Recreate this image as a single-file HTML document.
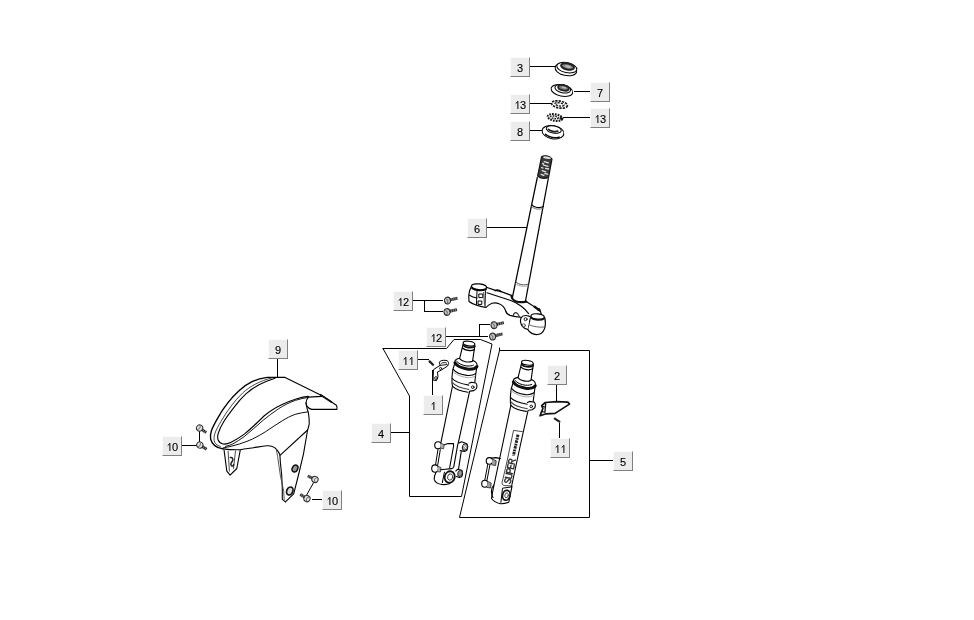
<!DOCTYPE html>
<html>
<head>
<meta charset="utf-8">
<title>Front fork - parts diagram</title>
<style>
html,body{margin:0;padding:0;background:#fff;}
body{width:974px;height:620px;position:relative;overflow:hidden;font-family:"Liberation Sans",sans-serif;}
#art{position:absolute;left:0;top:0;width:974px;height:620px;}
.lb{position:absolute;width:18px;height:18px;background:#ececec;border-top:1px solid #fbfbfb;border-left:1px solid #fbfbfb;border-right:1px solid #808080;border-bottom:1px solid #808080;font-size:11px;line-height:20px;text-align:center;color:#000;will-change:transform;-webkit-text-stroke:0.12px #000;}
.one{display:inline-block;vertical-align:baseline;margin:0 0.05px;}
</style>
</head>
<body>
<svg id="art" style="will-change:transform" width="974" height="620" viewBox="0 0 974 620" fill="none" stroke="#000" stroke-width="1" stroke-linecap="round" stroke-linejoin="round">
<defs>
<g id="bolt">
<path d="M2.6 -0.2L10.2 -0.2" stroke="#2c2c2c" stroke-width="2.9" stroke-linecap="butt"/>
<path d="M4.6 -1.6v2.8M6.6 -1.6v2.8M8.6 -1.6v2.8" stroke="#a0a0a0" stroke-width="0.7" stroke-linecap="butt"/>
<ellipse cx="0" cy="0" rx="3" ry="3.4" fill="#c4c4c4" stroke="#2a2a2a" stroke-width="1.1"/>
<path d="M-1.2 -2.4C0.6 -1.2 0.8 1.2 -0.8 2.6" stroke="#555" stroke-width="0.9"/>
</g>
<g id="bolt2">
<path d="M2.4 0L8 0" stroke="#2c2c2c" stroke-width="2.9" stroke-linecap="butt"/>
<path d="M4.6 -1.5v3M6.6 -1.5v3" stroke="#9a9a9a" stroke-width="0.7" stroke-linecap="butt"/>
<circle cx="0" cy="0" r="3.1" fill="#e4e4e4" stroke="#2a2a2a" stroke-width="1"/>
<path d="M-1 -2.2C0.8 -1 0.8 1 -0.8 2.4" stroke="#666" stroke-width="0.9"/>
</g>
<g id="forkTop" stroke-width="1.1">
<!-- inner tube -->
<path d="M463.2 344L459.6 358.6C462 361.6 468 363 472.6 361.2L474.9 345.2" fill="#fff"/>
<ellipse cx="469" cy="343.6" rx="5.9" ry="2.3" transform="rotate(8 469 343.6)" fill="#fff"/>
<path d="M463.3 345.2C465 347.6 471 348.6 474.8 346.6" stroke-width="1.7" stroke="#111"/>
<path d="M462.6 348C465 350.6 471 351.4 474.3 349.6" stroke-width="1.2"/>
<!-- dust seal -->
<path d="M459.6 358.2C457 358.6 455.2 359.8 454.9 361.4L454.9 363"/>
<path d="M472.8 360.4C475 361.2 476.8 362.8 477 364.6L477 366.6"/>
<path d="M456.5 361.2C458 363.4 463 365.8 467 366C470 366.2 472.4 365.8 473.4 365.2" stroke-width="1"/>
<path d="M454.9 362.8C456.4 365.4 461 368 467 369C471 369.6 475.4 368.6 477 366.5" stroke-width="2.9" stroke="#111"/>
<!-- outer tube top -->
<path d="M454.9 363L452.8 369.6L452 377L452 383.2L452.5 386"/>
<path d="M477 366.6L476.4 369.6L475.4 377L474.8 382.4"/>
<path d="M453.3 369.4C455 371.6 460 374.4 467 375.4C470.6 375.8 473.8 375 475.6 373.6"/>
<path d="M453 371.6C455 373.8 460 376.6 467 377.6C470.6 378 473.6 377.2 475.2 376" stroke="#aaa" stroke-width="1"/>
<!-- clamp ring -->
<path d="M452.3 378.5C454 380.6 459.6 383.6 469 385.1"/>
<path d="M452.5 382.7C454.4 385 460 388 469 389.5" stroke="#444"/>
<path d="M452.8 386.4C455 388.8 461 391.4 468 392.2"/>
<path d="M469 383.3L471.2 382.2L475.9 383C476.8 384 477 385.4 476.9 386.4C476.8 387.8 476.6 388.2 476.4 388.6L473.8 390.6L470.1 391.1" fill="#fff"/>
<circle cx="472.8" cy="387.2" r="1.3" stroke-width="0.9"/>
</g>
</defs>
<!-- LEADERS -->
<g id="leaders" shape-rendering="crispEdges" stroke-linecap="butt">
<path d="M530 66.5H555"/>
<path d="M574 91.5H590"/>
<path d="M530 103.5H551"/>
<path d="M563 117.5H590"/>
<path d="M530 130.5H543"/>
<path d="M487 227.5H527"/>
<path d="M413 300.5H443M424.5 300V311.5H443"/>
<path d="M446 336.5H488M479.5 336V324.5H490"/>
<path d="M418 359.5H429"/>
<path d="M432.5 370V395"/>
<path d="M391 432.5H409"/>
<path d="M277.5 359V377"/>
<path d="M182 445.5H197M199.5 431V443"/>
<path d="M312 499.5H322"/>
<path d="M556.5 385V401"/>
<path d="M559.5 423V438"/>
<path d="M589 460.5H613"/>
</g>
<!-- GROUP OUTLINES -->
<g id="outlines">
<path d="M383 348.5H446.5L454 339.5H480.5L492 344L461.5 496.5H409.5V396L383 348.5"/>
<path d="M499.5 348V350.5H589.5V517.5H459.5L499.5 350.5"/>
</g>
<!-- PARTS -->
<g id="parts">
<!-- STEM 6 -->
<g id="stem">
<path d="M541.5 157L512.5 297L525.5 301L552 159Z" fill="#fff" stroke="none"/>
<path d="M541.5 157L537.6 176C541 178.6 545.5 178.8 548.6 177.2L552 159C550 155.5 543.5 155 541.5 157Z" fill="#3a3a3a" stroke="#111" stroke-width="1.2"/>
<ellipse cx="547" cy="157.6" rx="4" ry="1.2" fill="#ddd" stroke="none" transform="rotate(10 547 157.6)"/>
<path d="M544.2 161.6l4.2 1.2M543.4 165l4.6 1.4M545.6 168.4l3 0.6M542.2 170.6l3.6 1.2M544.8 173.6l3 0.6M541.2 174.4l2.6 1M542.6 163.4l1 0.4M541.6 167.6l1.4 0.4" stroke="#e4e4e4" stroke-width="1.3"/>
<path d="M537.3 177.5L512.5 297" stroke-width="1.25"/>
<path d="M548.3 178.5L525.5 301" stroke-width="1.25"/>
<path d="M531.6 204.6C534 207.6 540 208.6 543.4 206.4" stroke-width="1.1"/>
<path d="M531.4 206.2C534 209.4 540 210.2 543.2 208" stroke="#666" stroke-width="0.9"/>
<path d="M516 282.2C519 284.8 524.5 285.6 528.4 284" stroke="#555" stroke-width="1"/>
<path d="M515.7 283.8C519 286.4 524.5 287 528.1 285.6" stroke="#999" stroke-width="0.9"/>
<path d="M511.6 296.5C512 300.5 517 303.4 526.2 301.6" stroke="#111" stroke-width="2.2"/>
</g>
<!-- TRIPLE CLAMP -->
<g id="clamp" stroke-width="1.15">
<!-- left clamp -->
<path d="M471.3 286.5C469.5 290 468.3 296 469 301.5C473 304.5 480 306.5 486 307.5C488 305 490 304 492 303.2C494.5 302.6 497 302.8 499 303.8C502 305 504.5 307.5 505.5 310.5C506 312.6 507.5 314.4 510 315.4C514 316.8 519 317.3 522.5 317.5"/>
<ellipse cx="479" cy="286.8" rx="7.6" ry="2.9" transform="rotate(6 479 286.8)" fill="#fff"/>
<path d="M472 288.4C475 290.6 482 291.2 486 289.4" stroke-width="1.6"/>
<path d="M469 295C472 296.8 474.5 297.6 477 298"/>
<path d="M477 291.5L476.4 304.6M485.4 290.8L485 306.6" stroke-width="1"/>
<rect x="479.2" y="294" width="3.6" height="3.6" stroke-width="1"/>
<rect x="478.4" y="301" width="3.4" height="3.4" stroke-width="1"/>
<path d="M483.6 292.5L484.4 304" stroke-width="0.9" stroke="#444"/>
<!-- arm -->
<path d="M486.4 287.2L495.4 290.4L500.6 291.4L512 295.6"/>
<path d="M495.2 290.6C497 289.6 499.6 290 500.8 291.6" stroke-width="1.5"/>
<path d="M487 292.8L510 300.2C514 301.6 518 303.6 521 306C524.5 308.6 527 311.4 528.6 313.6"/>
<path d="M513 316.2C513.6 313.6 515 312.4 516.2 312.6C517.6 313 518.6 314.6 519.4 316.6" stroke="#333"/>
<!-- right arm top -->
<path d="M526.2 301.4L532.4 305.4L536.4 308.4L540.4 311.2L541.2 314"/>
<path d="M534.6 306.8L539.6 310.4" stroke-width="2.4" stroke="#111"/>
<circle cx="538.8" cy="309.6" r="1.5" fill="#111" stroke="none"/>
<!-- right clamp cylinder -->
<path d="M530.6 316.8C529.6 321 528.6 325.5 527.6 329.4C529.5 332.4 533 334.4 536.6 334.6C540 334.6 543 332.6 544.4 329C545.6 325.6 545.6 321.4 544.8 317.6" fill="#fff"/>
<ellipse cx="537.6" cy="316.6" rx="6.7" ry="2.7" transform="rotate(6 537.6 316.6)" fill="#fff"/>
<path d="M531 317.6C533.5 320 541 320.6 544.2 318.4" stroke-width="1.9" stroke="#111"/>
<path d="M529 324.8C533 326.6 539 327.6 545 327" stroke="#666" stroke-width="1"/>
<!-- lug -->
<path d="M529.6 316.4C526 315 522.4 315.6 521 318C520 320.6 520.6 324 522.6 326.6C524 328.2 526 329.2 527.8 329.4" fill="#fff"/>
<circle cx="525.6" cy="319.2" r="1.5" stroke-width="0.9"/>
<circle cx="523.8" cy="325.4" r="1.6" stroke-width="0.9" stroke="#444"/>
</g>
<!-- FENDER 9 -->
<g id="fender" stroke-width="1.1">
<!-- body fill -->
<path d="M267.3 377.3L284.6 377.3L321.6 395.4L336.4 405.3L336.9 409.4L311.7 409.4L308.4 412.7L309.2 424.2L307.6 430L303.5 453.8L293.7 493.9L285.4 501.9L282.3 499.3L282.3 488.5L280.3 461.8L279.7 454.4L276.3 449.1L272.3 446.4L266.9 445.7L253.5 447.7L240.2 449.7L236.8 468.5L230.1 475.2L226.8 471.1L224.1 450.4L220.1 448.4L214.7 445.6L210.6 439L211.4 430.8L218 417.6L227.8 402.8L239.3 390.5L252.5 381.4Z" fill="#fff" stroke="none"/>
<!-- outer left curve -->
<path d="M284.6 377.3L267.3 377.3C262 378 257 379.4 252.5 381.4C247.6 383.8 243.2 386.8 239.3 390.5C235 394.4 231.2 398.4 227.8 402.8C224 407.6 220.8 412.4 218 417.6C215.2 422.4 212.8 426.8 211.4 430.8C210.4 434 210.2 436.6 210.6 439C211.4 442 212.8 444.2 214.7 445.6C217 447.4 219.8 448.4 222.9 448.9" stroke-width="1.35"/>
<!-- inner lip -->
<path d="M272.2 377.8C266 379.4 260.6 381.4 255.8 383.9C251 386.4 246.6 389.4 242.6 393C238.4 397 234.6 401.4 231.1 406.1C227.4 411 224.2 415.8 221.3 420.9C218.4 425.8 216 430 214.7 434.1C213.8 437.2 213.8 440 214.7 442.3C215.8 444.4 217.8 445.8 220.4 446.4" stroke-width="0.9" stroke="#333"/>
<!-- long U crease -->
<path d="M275 378.2C269.4 380 264 382.2 259 384.7C254.4 387.2 250 390.2 245.9 393.8C241.8 397.6 238 402 234.4 406.9C230.4 412 226.8 416.8 223.7 421.7C221 426 219 430.2 218 434.1C217.4 436.4 217.4 438.2 218 439.8C218.8 442 220.6 443.4 222.9 444C225.6 444.4 228.4 443.6 231.1 442.3C235.4 440.2 239.8 437.4 244.3 434.1C251 428.8 257.6 422.4 264 416C270 410.8 276 407.4 282.1 404.5C287 402.2 292 400.2 296.9 398.7C300.8 397.6 304.6 396.8 308.4 396.4"/>
<!-- second crease -->
<path d="M308.4 397.4C304 398 299.6 399 295.3 400.4C289.6 402.4 284 405.2 278.8 408.6C273 412.4 267.6 416.6 262.4 420.9C256.4 426.2 250.4 431.6 244.3 436.5C240.4 439.4 236.6 441.8 232.8 443.9C230.4 445 227.8 446 225.4 446.4" stroke-width="0.9"/>
<!-- lower crease -->
<path d="M307.6 411.9C303.4 412.4 299.4 413.2 295.3 414.3C290.8 415.8 286.4 418.2 282.1 420.9C276.6 424.2 271.2 428 265.7 431.6C261.4 434.4 257 436.8 252.5 439C248.2 441 243.8 442.6 239.3 444C233.8 445.8 228.4 447 222.9 448" stroke-width="0.95"/>
<!-- right slope and tip -->
<path d="M284.6 377.3L321.6 395.4L336.4 405.3C337 406.4 337.2 408 336.9 409.4L311.7 409.4C309.4 408.8 308.2 407.8 307.6 406.9C306.4 405.4 305.8 404.2 306 402.8C306.2 400.6 307 398.6 308.4 397.1L321.6 396.4"/>
<path d="M320.4 394.8L331.4 402" stroke-width="1.9" stroke="#111"/>
<!-- front panel edge -->
<path d="M306 402.8C306.4 406 307.2 409.4 308.4 412.7C309 416.6 309.4 420.4 309.2 424.2C308.8 426.2 308.2 428.2 307.6 430L303.5 453.8L299.1 472.5L293.7 493.9L285.4 501.9"/>
<path d="M280.3 455.1L307.6 430"/>
<!-- bottom edge and right leg -->
<path d="M222.9 448.9C228.4 449.6 234.6 449.9 240.2 449.7C244.6 449.2 249 448.4 253.5 447.7C258 447 262.4 446.2 266.9 445.7C269 445.6 270.8 445.8 272.3 446.4C274 447 275.4 448 276.3 449.1C278 451 279.2 452.6 279.7 454.4C280.2 457 280.2 459.4 280.3 461.8L281.7 475.2L282.3 488.5L282.3 499.3L285.4 501.9"/>
<path d="M276.3 449.4L277.6 456.4L280.3 475.2L283.7 491.2L284.2 499.4" stroke="#444" stroke-width="0.9"/>
<ellipse cx="295" cy="468.5" rx="2.7" ry="3.6" fill="#999" stroke="#111" stroke-width="1.5" transform="rotate(25 295 468.5)"/>
<ellipse cx="289.8" cy="491" rx="3" ry="4.1" fill="#ddd" stroke="#111" stroke-width="1.7" transform="rotate(25 289.8 491)"/>
<!-- rear leg -->
<path d="M224.1 450.4L226.8 471.1L230.1 475.2L236.8 468.5L240.2 450.4"/>
<path d="M228.1 451L229.4 471.1M235.5 451L233.5 468.5" stroke-width="0.9" stroke="#333"/>
<path d="M230.4 457.6C232.6 457.2 233.6 459.4 232.4 461C231.2 462.6 230 464 231.4 465.6C232.4 466.6 233.6 466 233.6 464.4" stroke-width="1.5" stroke="#222"/>
</g>
<!-- BRACKET 2 + screw 11 -->
<g id="brk2">
<path d="M545.3 402.5L556.6 401.7L567.9 402.1L569.5 404.1L555 413.4L546.1 413.8L540.1 415.8L540.9 413.4L542.9 408.5L541.7 405.7Z" fill="#fff" stroke="#111" stroke-width="1.7"/>
<path d="M545.7 403.6L544.9 412.4" stroke="#111" stroke-width="1.3"/>
<path d="M542.6 406.4l2 0.6M541.8 411.6l2.4 0.4" stroke="#111" stroke-width="1.2"/>
<path d="M554.8 418.6L559.4 421.6" stroke="#222" stroke-width="2.2"/>
</g>
<!-- BOLTS 12 -->
<use href="#bolt" transform="translate(447.5 300.6) rotate(-12)"/>
<use href="#bolt" transform="translate(447 312) rotate(-12)"/>
<use href="#bolt" transform="translate(494 325.2) rotate(-14)"/>
<use href="#bolt" transform="translate(492.6 336.6) rotate(-14)"/>
<!-- BOLTS 10 -->
<use href="#bolt2" transform="translate(199.6 428) rotate(35)"/>
<use href="#bolt2" transform="translate(199.8 445) rotate(32)"/>
<path d="M313.6 482.6L306.4 495.4" stroke-width="1"/>
<use href="#bolt2" transform="translate(315 479.4) rotate(205)"/>
<use href="#bolt2" transform="translate(307 498.6) rotate(212)"/>
<!-- LEFT FORK (4) -->
<g id="forkL" stroke-width="1.1">
<use href="#forkTop"/>
<path d="M452.5 386L440.7 443.7"/>
<path d="M469.6 391.4L458.6 441.4"/>
<!-- lower: lugs and caliper mount -->
<path d="M458.6 441.4L457.6 445.4L453.8 466.6C453.4 468 452.4 468.6 451.2 468.6"/>
<path d="M443.6 445L448 443.6L453.5 443.5L453.6 446L449.7 467.5"/>
<path d="M461.2 451.8L458.6 468.6" />
<path d="M438 449.4L435.5 465M440.3 449.6L437.7 465.2" stroke-width="1"/>
<!-- upper-left lug -->
<ellipse cx="438" cy="445.2" rx="3.3" ry="3.5" fill="#fff"/>
<path d="M440.8 443L444.2 444.8L443.6 448.8L440.4 448.2" fill="#aaa" stroke="#444" stroke-width="0.9"/>
<!-- upper-right lug -->
<path d="M459 443L461.4 441.8L466.4 443.4C468 445 468.2 448.6 466.6 450.6L464.4 451.4L460.2 450.6" fill="#fff"/>
<ellipse cx="465" cy="447" rx="2.5" ry="3.3" fill="#aaa" stroke="#222" stroke-width="1.1" transform="rotate(15 465 447)"/>
<path d="M463.8 445.6l2.4 2.6" stroke="#fff" stroke-width="0.8"/>
<!-- lower-left lug -->
<ellipse cx="435" cy="468.6" rx="3.3" ry="3.7" fill="#fff"/>
<path d="M437.8 466.2L441 467.6L440.4 472L437.4 471.6" fill="#aaa" stroke="#444" stroke-width="0.9"/>
<!-- lower-right lug -->
<path d="M455.8 471L457.8 469.2L461.6 470.2C462.8 471.6 463 475 461.6 476.8L459.4 477.6L456.4 476.6" fill="#fff"/>
<ellipse cx="460" cy="473.4" rx="2.2" ry="3" fill="#999" stroke="#333" stroke-width="1" transform="rotate(15 460 473.4)"/>
<!-- axle holder -->
<path d="M440.7 469.8C444 469.4 448 469 451.2 468.6"/>
<path d="M436 472.2C434.6 475 434 477.6 434.2 479.4C435 482 438 484 442 484.5C445 484.8 448 484.4 450 483.6"/>
<path d="M444.4 472.2L442.3 482.8" stroke-width="1"/>
<ellipse cx="449.7" cy="477" rx="5" ry="5.8" fill="#fff" stroke="#111" stroke-width="1.8" transform="rotate(15 449.7 477)"/>
<ellipse cx="450.2" cy="477" rx="2.6" ry="3.2" stroke-width="0.9" stroke="#333" transform="rotate(15 450.2 477)"/>
</g>
<!-- RIGHT FORK (5) -->
<g id="forkR" stroke-width="1.1">
<use href="#forkTop" transform="translate(58.4 19.2)"/>
<path d="M510.9 405.2L502.5 445L493.6 487"/>
<path d="M528 410.6L520.4 445L511.4 487"/>
<!-- decal -->
<path d="M522.4 431.6L513.5 430.4L506.7 463L502 482.8C502 484.6 503 485.4 504.4 485.5L510.9 485.9" stroke-width="0.9" stroke="#333"/>
<path d="M518 434.6L513.4 455.8" stroke="#222" stroke-width="2.9" stroke-dasharray="2.6 0.8 1.8 0.7" stroke-linecap="butt"/>
<g transform="translate(510.4 483.6) rotate(-78) scale(0.97)" stroke="#333" stroke-width="1.4" stroke-linejoin="round" stroke-linecap="round">
<path d="M4 -5.4C3 -6.9 0.3 -6.8 0.3 -4.8C0.3 -3 4 -3.6 4 -1.6C4 0.4 1 0.4 0 -1.1"/>
<path transform="translate(5.3 0)" d="M0 -6.5V-1.6C0 0.5 4 0.5 4 -1.6V-6.5"/>
<path transform="translate(10.6 0)" d="M0 0V-6.5H2.4C4.6 -6.5 4.6 -3 2.4 -3H0"/>
<path transform="translate(15.6 0)" d="M3.8 -6.5H0V0H3.8M0 -3.3H3"/>
<path transform="translate(20.6 0)" d="M0 0V-6.5H2.4C4.6 -6.5 4.6 -3.2 2.4 -3.2H0M2.2 -3.2L4.2 0"/>
</g>
<!-- lugs -->
<path d="M491 458.1L496 457.6L500.4 458.6"/>
<path d="M487.8 464.4L484.7 480.7M489.9 464.9L486.8 481.2" stroke-width="1"/>
<ellipse cx="489.4" cy="460.9" rx="3.2" ry="3.3" fill="#fff"/>
<path d="M492.2 459L496.2 460.8L495.6 465.6L491.8 464.8" fill="#a0a0a0" stroke="#333" stroke-width="0.9"/>
<ellipse cx="484.8" cy="483.8" rx="3.1" ry="3.5" fill="#fff"/>
<path d="M487.4 481.4L491.2 483L490.6 488L487 487.4" fill="#a0a0a0" stroke="#333" stroke-width="0.9"/>
<!-- bottom -->
<path d="M493.8 485C492 487 491.2 489.4 491.4 491.6C491.6 494 492.2 496 493 497.4"/>
<path d="M493.6 487C492.8 491 492 495 491.5 498.5C493 500.8 496.2 502.8 500.4 503.7C503.4 503.8 506.6 503 508.8 502.2L512 486.4"/>
<path d="M510.9 487L502.5 488.2L500.9 502.4" stroke-width="1"/>
<ellipse cx="506.3" cy="495.3" rx="3.7" ry="5" fill="#fff" stroke="#111" stroke-width="1.7" transform="rotate(14 506.3 495.3)"/>
<ellipse cx="506.6" cy="495.3" rx="1.7" ry="2.5" stroke="#444" stroke-width="0.9" transform="rotate(14 506.6 495.3)"/>
</g>
<!-- BRACKET 1 + screw 11 -->
<g id="brk1" stroke-width="1">
<path d="M440 365L439.4 362.2C440 360.6 443 360 446 360.4C447.8 360.8 448.8 362 448.6 363.4L447.6 366L441.5 370L437.4 372L438 376.6L436.5 380.6L433 380L433.5 369.6L440 365.4" fill="#fff"/>
<path d="M441.6 363.2C443 362.4 445.4 362.4 446.6 363" stroke-width="0.9"/>
<path d="M440 365.4L447 364.6" stroke-width="0.9"/>
<circle cx="440.6" cy="368.4" r="1.1" stroke-width="0.8"/>
<circle cx="436" cy="378" r="1.4" stroke-width="0.8"/>
<path d="M429.6 361.4L433 364.8" stroke="#222" stroke-width="2.3"/>
</g>
<!-- nut 3 -->
<g transform="rotate(12 566 69)">
<ellipse cx="566" cy="69.5" rx="11" ry="6" fill="#fff"/>
<ellipse cx="566.5" cy="67.5" rx="10.2" ry="5" fill="#fff"/>
<ellipse cx="567" cy="66.2" rx="6.6" ry="3" fill="#8a8a8a" stroke="#222" stroke-width="2"/>
<ellipse cx="567.5" cy="66.2" rx="3" ry="1.1" fill="#bbb" stroke="none"/>
</g>
<!-- nut 7 -->
<g transform="rotate(12 562 90)">
<ellipse cx="562" cy="90.5" rx="11" ry="5.6" fill="#fff"/>
<ellipse cx="562.5" cy="88.6" rx="8" ry="4" fill="#fff"/>
<ellipse cx="563" cy="87.6" rx="5.4" ry="2.6" fill="#777" stroke="#222" stroke-width="1.8"/>
<ellipse cx="563.5" cy="87.2" rx="2.4" ry="0.9" fill="#bbb" stroke="none"/>
</g>
<!-- washer 13 upper -->
<g transform="rotate(10 559.5 104.5)" stroke="#1a1a1a" stroke-linecap="butt">
<ellipse cx="559.5" cy="104.5" rx="8" ry="3.5" stroke-width="1.7" stroke-dasharray="2.3 1.0"/>
<ellipse cx="559.5" cy="104.4" rx="4.6" ry="1.5" stroke-width="1.4" stroke-dasharray="2.2 1.0"/>
</g>
<!-- washer 13 lower -->
<g transform="rotate(10 555 117.5)" stroke="#1a1a1a" stroke-linecap="butt">
<ellipse cx="555" cy="117.5" rx="7.4" ry="3.3" stroke-width="2" stroke-dasharray="1.7 1.1" fill="#e8e8e8"/>
<ellipse cx="554.6" cy="117.4" rx="3.8" ry="1.3" stroke-width="1.5" stroke-dasharray="1.5 1.1"/>
<path d="M560 116.6L563 118.4" stroke-width="2.4"/>
</g>
<!-- nut 8 -->
<g transform="rotate(10 553 132)">
<ellipse cx="553" cy="132.2" rx="11" ry="6.6" fill="#fff"/>
<ellipse cx="553.3" cy="129.4" rx="7.6" ry="3.6" fill="#fff"/>
<path d="M548 130.2C550 131.6 555 131.8 557.5 130.4" stroke-width="1.8" stroke="#222"/>
<path d="M546 135.5C550 138 557 138 561 135.5" stroke-width="1.4" stroke-dasharray="2 1.2"/>
</g>
</g>
</svg>
<!-- LABELS -->
<div class="lb" style="left:510px;top:57px">3</div>
<div class="lb" style="left:590px;top:82px">7</div>
<div class="lb" style="left:510px;top:94px"><svg class="one" width="6" height="8" viewBox="0 0 6 8"><path d="M3.9 0.2V8M3.9 0.5L1.7 2.6" fill="none" stroke="#000" stroke-width="1" stroke-linecap="butt"/></svg>3</div>
<div class="lb" style="left:590px;top:108px"><svg class="one" width="6" height="8" viewBox="0 0 6 8"><path d="M3.9 0.2V8M3.9 0.5L1.7 2.6" fill="none" stroke="#000" stroke-width="1" stroke-linecap="butt"/></svg>3</div>
<div class="lb" style="left:510px;top:121px">8</div>
<div class="lb" style="left:467px;top:218px">6</div>
<div class="lb" style="left:393px;top:291px"><svg class="one" width="6" height="8" viewBox="0 0 6 8"><path d="M3.9 0.2V8M3.9 0.5L1.7 2.6" fill="none" stroke="#000" stroke-width="1" stroke-linecap="butt"/></svg>2</div>
<div class="lb" style="left:426px;top:327px"><svg class="one" width="6" height="8" viewBox="0 0 6 8"><path d="M3.9 0.2V8M3.9 0.5L1.7 2.6" fill="none" stroke="#000" stroke-width="1" stroke-linecap="butt"/></svg>2</div>
<div class="lb" style="left:398px;top:350px"><svg class="one" width="6" height="8" viewBox="0 0 6 8"><path d="M3.9 0.2V8M3.9 0.5L1.7 2.6" fill="none" stroke="#000" stroke-width="1" stroke-linecap="butt"/></svg><svg class="one" width="6" height="8" viewBox="0 0 6 8"><path d="M3.9 0.2V8M3.9 0.5L1.7 2.6" fill="none" stroke="#000" stroke-width="1" stroke-linecap="butt"/></svg></div>
<div class="lb" style="left:423px;top:395px"><svg class="one" width="6" height="8" viewBox="0 0 6 8"><path d="M3.9 0.2V8M3.9 0.5L1.7 2.6" fill="none" stroke="#000" stroke-width="1" stroke-linecap="butt"/></svg></div>
<div class="lb" style="left:371px;top:423px">4</div>
<div class="lb" style="left:268px;top:339px">9</div>
<div class="lb" style="left:162px;top:436px"><svg class="one" width="6" height="8" viewBox="0 0 6 8"><path d="M3.9 0.2V8M3.9 0.5L1.7 2.6" fill="none" stroke="#000" stroke-width="1" stroke-linecap="butt"/></svg>0</div>
<div class="lb" style="left:322px;top:490px"><svg class="one" width="6" height="8" viewBox="0 0 6 8"><path d="M3.9 0.2V8M3.9 0.5L1.7 2.6" fill="none" stroke="#000" stroke-width="1" stroke-linecap="butt"/></svg>0</div>
<div class="lb" style="left:547px;top:365px">2</div>
<div class="lb" style="left:550px;top:438px"><svg class="one" width="6" height="8" viewBox="0 0 6 8"><path d="M3.9 0.2V8M3.9 0.5L1.7 2.6" fill="none" stroke="#000" stroke-width="1" stroke-linecap="butt"/></svg><svg class="one" width="6" height="8" viewBox="0 0 6 8"><path d="M3.9 0.2V8M3.9 0.5L1.7 2.6" fill="none" stroke="#000" stroke-width="1" stroke-linecap="butt"/></svg></div>
<div class="lb" style="left:613px;top:451px">5</div>
</body>
</html>
